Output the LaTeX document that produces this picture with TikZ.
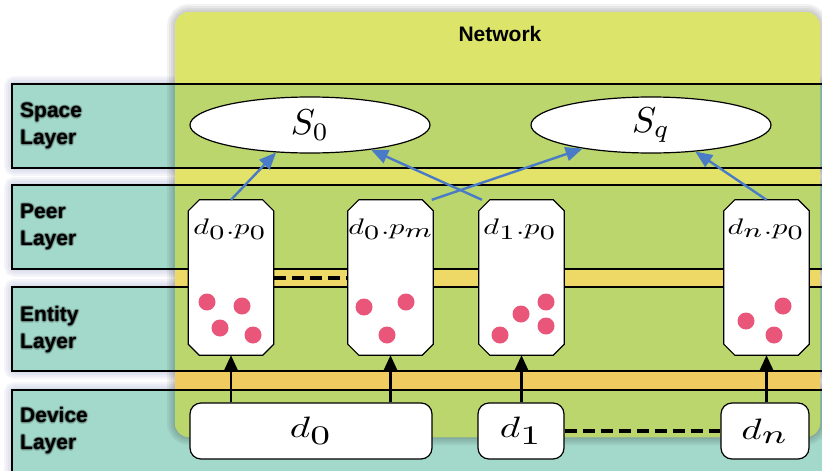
\documentclass[tikz,border=0pt]{standalone}
\usepackage[no-math]{fontspec}
\newfontfamily\labelfont{Liberation Sans}
\usetikzlibrary{arrows.meta,shapes.geometric}

\definecolor{bandteal}{HTML}{A3D9CA}
\definecolor{bandgreen}{HTML}{BBD66C}
\definecolor{netA}{HTML}{DDE46A}
\definecolor{netB}{HTML}{E2E368}
\definecolor{netC}{HTML}{EED866}
\definecolor{netD}{HTML}{F0CB60}
\definecolor{netE}{HTML}{F2C85E}
\definecolor{arrowblue}{HTML}{4A7BC6}
\definecolor{dotpink}{HTML}{E9567A}
\definecolor{haze}{HTML}{6E78B0}

% yellow at the top of the network, warming to orange towards the bottom
\pgfdeclareverticalshading{netshade}{100bp}{color(0bp)=(netE); color(25bp)=(netE);
  color(31.6bp)=(netD); color(43.7bp)=(netC); color(55.7bp)=(netB);
  color(66.5bp)=(netA); color(100bp)=(netA)}

% octagonal outline round a peer node (corners cut by 11pt)
\newcommand\chamferoutline[1]{%
  \draw[peeroutline]
    ([xshift=11pt]#1.north west) -- ([xshift=-11pt]#1.north east)
    -- ([yshift=-11pt]#1.north east) -- ([yshift=11pt]#1.south east)
    -- ([xshift=-11pt]#1.south east) -- ([xshift=11pt]#1.south west)
    -- ([yshift=11pt]#1.south west) -- ([yshift=-11pt]#1.north west) -- cycle;}

% math labels, set at 10pt and enlarged; index letters kept large
\newcommand\bigsub[1]{_{\scalebox{1.3}{$\scriptstyle #1$}}}
\newcommand\spacemath[1]{\scalebox{3.6}{$#1$}}
\newcommand\peermath[1]{\scalebox{3.0}[2.25]{$#1$}}
\newcommand\devmath[1]{\scalebox{3.9}[2.95]{$#1$}}

% one layer caption with a soft dark halo behind it
\newcommand\layertag[3]{%
  \foreach \dx/\dy [count=\k] in {1.4/0,-1.4/0,0/1.4,0/-1.4,1/1,-1/1,1/-1,-1/-1}
    \node[layerlabel, text=black, text opacity=0.13] (#1g\k) at (20+\dx,#2+\dy) {#3};
  \node[layerlabel] (#1) at (20,#2) {#3};}

\begin{document}
\begin{tikzpicture}[x=1pt,y=-1pt,
  layerlabel/.style={anchor=west, align=left, inner sep=0pt,
    font=\labelfont\bfseries\fontsize{21}{27}\selectfont},
  netlabel/.style={anchor=base, inner sep=0pt,
    font=\labelfont\bfseries\fontsize{21}{25}\selectfont},
  spacenode/.style={ellipse, draw, line width=1.2pt, fill=white,
    minimum width=240pt, minimum height=56pt, inner sep=0pt},
  peerbox/.style={rectangle, draw=none, minimum width=85pt, minimum height=155pt,
    inner sep=0pt},
  peeroutline/.style={draw=black, line width=1.2pt, fill=white, line join=miter},
  peertext/.style={anchor=base, inner sep=0pt},
  devbox/.style={rectangle, rounded corners=11pt, draw, line width=1.2pt,
    fill=white, minimum height=56pt, inner sep=0pt},
  devarrow/.style={line width=2.4pt, -{Triangle[length=16pt,width=14pt]}},
  uparrow/.style={arrowblue, line width=2.4pt, -{Triangle[length=17pt,width=14pt]}},
  linkdash/.style={line width=3.2pt, dash pattern=on 12pt off 6pt},
  entity/.style={dotpink}
]
\useasboundingbox (0,0) rectangle (822,471);
\clip (0,0) rectangle (822,471);

% layer bands with their haze
\foreach \t in {84,185,287,390} {
  \foreach \w in {16,12,8,4}
    \draw[haze, opacity=0.07, line width=\w pt, rounded corners=3pt] (12,\t) rectangle (850,\t+84);
  \fill[bandteal] (12,\t) rectangle (850,\t+84);
}

% network container
\foreach \w in {16,12,8,4}
  \draw[black, opacity=0.05, line width=\w pt, rounded corners=14pt] (175,12) rectangle (820,437);
\shade[shading=netshade, rounded corners=14pt] (175,12) rectangle (820,437);
\begin{scope}
  \clip[rounded corners=14pt] (175,12) rectangle (820,437);
  \foreach \t in {84,185,287,390}
    \fill[bandgreen] (12,\t) rectangle (850,\t+84);
\end{scope}

% band outlines run across the network
\foreach \t in {84,185,287,390}
  \draw[line width=1.2pt] (850,\t) -- (12,\t) -- (12,\t+84) -- (850,\t+84);

% captions
\layertag{lspace}{126}{Space\\Layer}
\layertag{lpeer}{227}{Peer\\Layer}
\layertag{lentity}{330}{Entity\\Layer}
\layertag{ldevice}{431}{Device\\Layer}
\node[netlabel] (nettitle) at (500,41) {Network};

% space layer
\node[spacenode] (S0) at (310,125) {\spacemath{S_0}};
\node[spacenode] (Sq) at (651,125) {\spacemath{S_q}};

% peers with the entities they hold
\node[peerbox] (p00) at (231,277.5) {};
\node[peerbox] (p0m) at (390.5,277.5) {};
\node[peerbox] (p10) at (521.5,277.5) {};
\node[peerbox] (pn0) at (766.5,277.5) {};
\chamferoutline{p00}
\chamferoutline{p0m}
\chamferoutline{p10}
\chamferoutline{pn0}
\node[peertext] (p00t) at (230,234) {\peermath{d\bigsub{0}.p\bigsub{0}}};
\node[peertext] (p0mt) at (391,234) {\peermath{d\bigsub{0}.p\bigsub{m}}};
\node[peertext] (p10t) at (520,234) {\peermath{d\bigsub{1}.p\bigsub{0}}};
\node[peertext] (pn0t) at (766,234) {\peermath{d\bigsub{n}.p\bigsub{0}}};

\foreach \x/\y in {207/302,242/306,220/328,253/335,
                   364/307,406/302,387/335,
                   500/335,521/314,546/302,546/326,
                   746/321,783/306,774/335}
  \fill[entity] (\x,\y) circle (8.5);

% devices
\node[devbox, minimum width=242pt] (d0) at (311,431) {\devmath{d\bigsub{0}}};
\node[devbox, minimum width=86pt] (d1) at (521,431) {\devmath{d\bigsub{1}}};
\node[devbox, minimum width=88pt] (dn) at (765,431) {\devmath{d\bigsub{n}}};

% device to peer
\draw[devarrow] (d0.north -| p00.south) -- (p00.south);
\draw[devarrow] (d0.north -| p0m.south) -- (p0m.south);
\draw[devarrow] (d1.north -| p10.south) -- (p10.south);
\draw[devarrow] (pn0.south |- dn.north) -- (pn0.south);

% elided peers and devices
\coordinate (dashrow) at (0,278);
\draw[linkdash] (p00.east |- dashrow) -- (p0m.west |- dashrow);
\draw[linkdash] (d1.east) -- (dn.west);

% peer to space
\draw[uparrow] (p00.north) -- (S0.219);
\draw[uparrow] (p10.117) -- (S0.-22);
\draw[uparrow] (p0m.62) -- (Sq.199);
\draw[uparrow] (pn0.north) -- (Sq.-31);
\end{tikzpicture}
\end{document}
